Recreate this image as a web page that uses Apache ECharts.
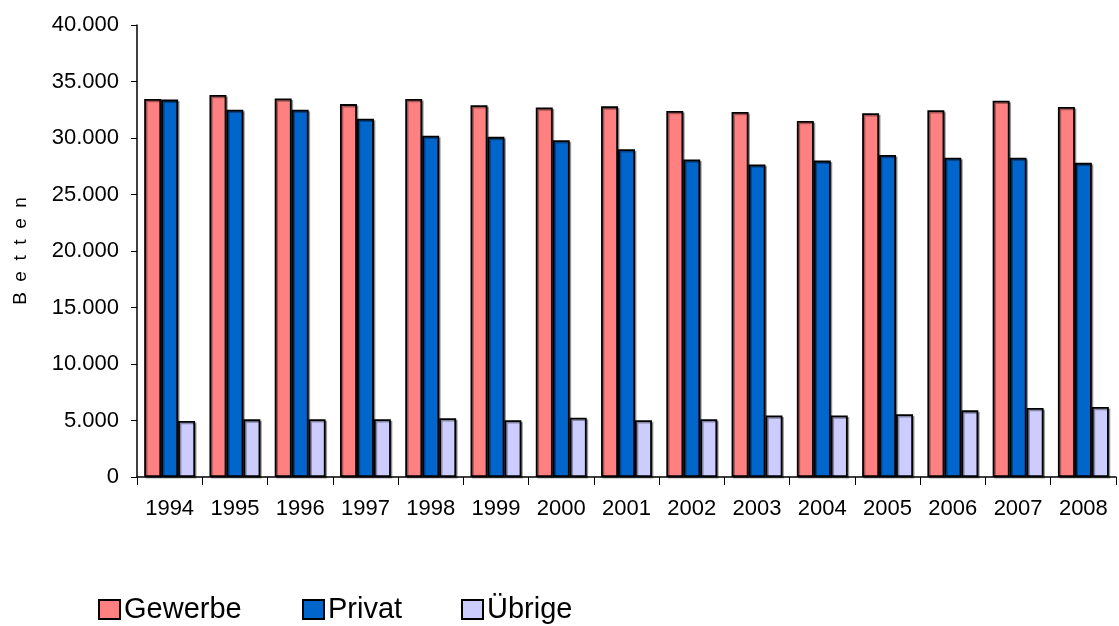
<!DOCTYPE html>
<html>
<head>
<meta charset="utf-8">
<script src="https://cdn.jsdelivr.net/npm/echarts@6/dist/echarts.min.js"></script>
<style>
html,body{margin:0;padding:0;background:#fff;}
#chart{width:1119px;height:626px;}
</style>
</head>
<body>
<div id="chart"></div>
<script>
var years = ['1994','1995','1996','1997','1998','1999','2000','2001','2002','2003','2004','2005','2006','2007','2008'];
var gewerbe = [33450, 33800, 33500, 33000, 33450, 32900, 32700, 32800, 32400, 32300, 31500, 32200, 32450, 33300, 32750];
var privat  = [33400, 32500, 32500, 31700, 30200, 30100, 29800, 29000, 28100, 27650, 28000, 28500, 28250, 28250, 27800];
var uebrige = [4950, 5100, 5120, 5120, 5200, 5020, 5250, 5030, 5120, 5450, 5450, 5550, 5900, 6100, 6200];
var seriesNames = ['Gewerbe', 'Privat', 'Übrige'];
var yTicks = { min: 0, max: 40000, interval: 5000 };

var font = 'Liberation Sans, Arial, sans-serif';
function fmt(v){ return String(v).replace(/\B(?=(\d{3})+(?!\d))/g, '.'); }
function bar(name, data, color){
  return {
    name: name, type: 'bar', data: data, barGap: '0%', barCategoryGap: '22%',
    itemStyle: { color: color, borderColor: '#000', borderWidth: 1.8,
      shadowColor: 'rgba(0,0,0,0.35)', shadowOffsetX: 1.5, shadowOffsetY: 1.5, shadowBlur: 0 }
  };
}
function leg(name, left){
  return {
    left: left, top: 590, itemWidth: 21, itemHeight: 19, icon: 'rect',
    textStyle: { fontFamily: font, fontSize: 29, color: '#000', padding: [0,0,0,-1] },
    data: [name]
  };
}
var chart = echarts.init(document.getElementById('chart'), null, {renderer: 'canvas'});
chart.setOption({
  animation: false,
  backgroundColor: '#fff',
  grid: { left: 137, right: 3, top: 25, bottom: 149, containLabel: false },
  legend: [ leg(seriesNames[0], 93), leg(seriesNames[1], 297), leg(seriesNames[2], 456) ],
  xAxis: {
    type: 'category', data: years,
    axisLine: { lineStyle: { color: '#000', width: 1.5 } },
    axisTick: { show: true, length: 8, lineStyle: { color: '#000' } },
    axisLabel: { fontFamily: font, fontSize: 22, color: '#000', margin: 21 }
  },
  yAxis: {
    type: 'value', min: yTicks.min, max: yTicks.max, interval: yTicks.interval,
    name: 'B  e  t  t  e  n', nameLocation: 'middle', nameRotate: 90, nameGap: 107,
    nameTextStyle: { fontFamily: font, fontSize: 19, color: '#000' },
    splitLine: { show: false },
    axisLine: { show: true, lineStyle: { color: '#000', width: 1.5 } },
    axisTick: { show: true, length: 6, lineStyle: { color: '#000' } },
    axisLabel: { fontFamily: font, fontSize: 22, color: '#000', margin: 18, formatter: fmt }
  },
  series: [
    bar(seriesNames[0], gewerbe, '#FF8080'),
    bar(seriesNames[1], privat, '#0066CC'),
    bar(seriesNames[2], uebrige, '#CCCCFF')
  ]
});
</script>
</body>
</html>
